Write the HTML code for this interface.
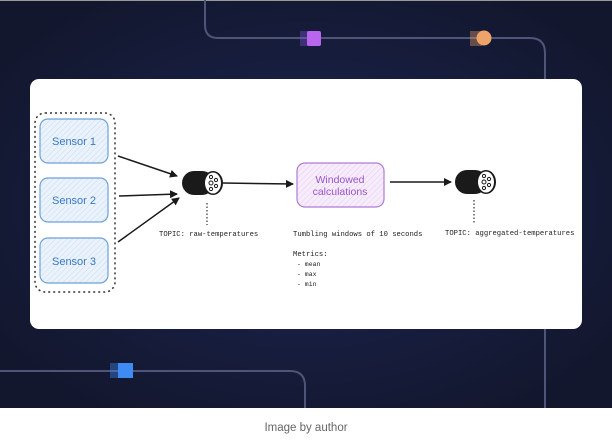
<!DOCTYPE html>
<html><head><style>
body{margin:0;width:612px;height:435px;overflow:hidden;background:#fff;font-family:"Liberation Sans",sans-serif}
</style></head><body>
<svg width="612" height="435" xmlns="http://www.w3.org/2000/svg">
<defs>
<radialGradient id="bg" cx="0.5" cy="0.5" r="0.6">
<stop offset="0" stop-color="#1b2552"/><stop offset="1" stop-color="#13172e"/></radialGradient>
<pattern id="hb" width="4" height="4" patternUnits="userSpaceOnUse" patternTransform="rotate(45)"><rect width="4" height="4" fill="#eaf2fb"/><line x1="0" y1="0" x2="0" y2="4" stroke="#c9dcf0" stroke-width="1"/></pattern>
<pattern id="hp" width="4" height="4" patternUnits="userSpaceOnUse" patternTransform="rotate(45)"><rect width="4" height="4" fill="#f6ecfb"/><line x1="0" y1="0" x2="0" y2="4" stroke="#e4cdf2" stroke-width="1"/></pattern>
<marker id="ar" markerWidth="8" markerHeight="8" refX="7" refY="4" orient="auto" markerUnits="userSpaceOnUse"><path d="M0,0 L8,4 L0,8 z" fill="#1a1a1a"/></marker>
</defs>
<rect width="612" height="408" fill="url(#bg)"/>
<rect width="612" height="1" fill="#999"/>
<g fill="none" stroke="#4e5578" stroke-width="2">
<path d="M205,0 V25 Q205,38 218,38 H530 Q545,38 545,53 V80"/>
<path d="M545,329 V408"/>
<path d="M0,371 H290 Q305,371 305,386 V408"/>
</g>
<rect x="300" y="31" width="14" height="15" fill="#7a4fd0" opacity="0.4"/>
<rect x="307" y="31" width="14" height="15" rx="2" fill="#b866f0"/>
<rect x="470" y="31" width="12" height="15" fill="#e39a63" opacity="0.4"/>
<circle cx="484" cy="38" r="7.5" fill="#eea36b"/>
<rect x="110" y="363" width="10" height="15" fill="#3f86f0" opacity="0.4"/>
<rect x="118" y="363" width="15" height="15" fill="#3e8cf3"/>
<rect x="30" y="79" width="552" height="250" rx="9" fill="#fff"/>
<rect x="35" y="113" width="80" height="179" rx="10" fill="none" stroke="#333" stroke-width="1.5" stroke-dasharray="2,3"/>
<g stroke="#6ea1d8" stroke-width="1.2" fill="url(#hb)">
<rect x="40" y="119" width="68" height="44" rx="8"/>
<rect x="40" y="178" width="68" height="44" rx="8"/>
<rect x="40" y="238" width="68" height="45" rx="8"/>
</g>
<g fill="#3a78c0" font-size="11" text-anchor="middle">
<text x="74" y="145">Sensor 1</text><text x="74" y="204">Sensor 2</text><text x="74" y="265">Sensor 3</text>
</g>
<g stroke="#1a1a1a" stroke-width="1.5" fill="none" marker-end="url(#ar)">
<line x1="118" y1="156" x2="177" y2="176"/>
<line x1="119" y1="196" x2="177" y2="194"/>
<line x1="118" y1="242" x2="179" y2="198"/>
<line x1="223" y1="183" x2="293" y2="184"/>
<line x1="390" y1="182" x2="451" y2="182"/>
</g>
<g>
<rect x="182" y="171" width="32" height="24" rx="12" fill="#1a1a1a"/>
<ellipse cx="213" cy="183" rx="10" ry="12" fill="#1a1a1a"/><ellipse cx="213" cy="183" rx="8" ry="10.5" fill="#fff"/>
<g fill="none" stroke="#1a1a1a" stroke-width="1"><circle cx="211" cy="183" r="2"/><circle cx="211" cy="177" r="1.6"/><circle cx="211" cy="189" r="1.6"/><circle cx="216" cy="180" r="1.6"/><circle cx="216" cy="186" r="1.6"/></g>
<rect x="455" y="170" width="32" height="24" rx="12" fill="#1a1a1a"/>
<ellipse cx="486" cy="182" rx="10" ry="12" fill="#1a1a1a"/><ellipse cx="486" cy="182" rx="8" ry="10.5" fill="#fff"/>
<g fill="none" stroke="#1a1a1a" stroke-width="1"><circle cx="484" cy="182" r="2"/><circle cx="484" cy="176" r="1.6"/><circle cx="484" cy="188" r="1.6"/><circle cx="489" cy="179" r="1.6"/><circle cx="489" cy="185" r="1.6"/></g>
</g>
<g stroke="#333" stroke-width="1.2" stroke-dasharray="1.5,2"><line x1="207" y1="203" x2="207" y2="225"/><line x1="474" y1="200" x2="474" y2="224"/></g>
<rect x="297" y="163" width="87" height="44" rx="8" fill="url(#hp)" stroke="#b07ad6" stroke-width="1.2"/>
<g fill="#9b55c9" font-size="10.5" text-anchor="middle"><text x="340" y="183">Windowed</text><text x="340" y="195">calculations</text></g>
<g fill="#222" font-size="7.2" font-family="'Liberation Mono',monospace">
<text x="159" y="236">TOPIC: raw-temperatures</text>
<text x="293" y="236">Tumbling windows of 10 seconds</text>
<text x="445" y="235">TOPIC: aggregated-temperatures</text>
<text x="293" y="256">Metrics:</text>
<text x="297" y="266" font-size="6.5">- mean</text>
<text x="297" y="276" font-size="6.5">- max</text>
<text x="297" y="286" font-size="6.5">- min</text>
</g>
<text x="306" y="431" fill="#666" font-size="11.5" text-anchor="middle">Image by author</text>
</svg>
</body></html>
